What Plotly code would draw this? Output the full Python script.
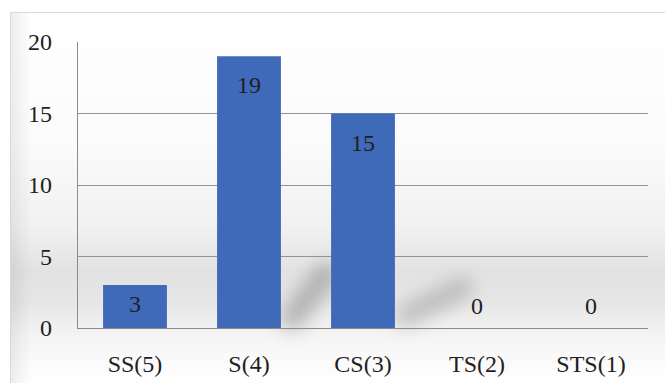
import base64
import plotly.graph_objects as go

# Response categories and counts
categories = ["SS(5)", "S(4)", "CS(3)", "TS(2)", "STS(1)"]
counts = [3, 19, 15, 0, 0]
y_ticks = [0, 5, 10, 15, 20]

W, H = 665, 383
L, R, T, B = 78, 17, 42, 55
plot_w = W - L - R
plot_h = H - T - B
y_max = 20

FONT = "'Liberation Serif', 'Times New Roman', serif"
FS = 24
TEXT = "#1f1f1f"
BAR = "#3f69b9"

# Chart-area backdrop: soft grey gradient, floor shadows and a thin frame
svg = f"""<svg xmlns='http://www.w3.org/2000/svg' width='{W}' height='{H}' viewBox='0 0 {W} {H}'>
<defs>
<linearGradient id='v' x1='0' y1='0' x2='0' y2='1'>
<stop offset='0' stop-color='#ffffff'/>
<stop offset='0.35' stop-color='#fbfbfb'/>
<stop offset='0.58' stop-color='#f1f1f1'/>
<stop offset='0.70' stop-color='#e2e2e2'/>
<stop offset='0.78' stop-color='#e6e6e6'/>
<stop offset='0.88' stop-color='#f5f5f5'/>
<stop offset='1' stop-color='#ffffff'/>
</linearGradient>
<linearGradient id='h' x1='0' y1='0' x2='1' y2='0'>
<stop offset='0' stop-color='#000000' stop-opacity='0.07'/>
<stop offset='1' stop-color='#000000' stop-opacity='0'/>
</linearGradient>
<filter id='f' filterUnits='userSpaceOnUse' x='0' y='0' width='{W}' height='{H}'><feGaussianBlur stdDeviation='9'/></filter>
</defs>
<rect x='0' y='0' width='{W}' height='{H}' fill='#ffffff'/>
<rect x='10' y='12' width='{W - 10}' height='{H - 12}' fill='url(#v)'/>
<rect x='10' y='12' width='22' height='{H - 12}' fill='url(#h)'/>
<line x1='292' y1='318' x2='326' y2='274' stroke='#6a6a6a' stroke-width='24' stroke-linecap='round' opacity='0.42' filter='url(#f)'/>
<line x1='406' y1='316' x2='462' y2='288' stroke='#7a7a7a' stroke-width='22' stroke-linecap='round' opacity='0.38' filter='url(#f)'/>
<rect x='10.5' y='12.5' width='{W - 10}' height='{H}' fill='none' stroke='#d9d9d9' stroke-width='1'/>
</svg>"""
bg_uri = "data:image/svg+xml;base64," + base64.b64encode(svg.encode()).decode()

fig = go.Figure(
    go.Bar(
        x=categories,
        y=counts,
        marker=dict(color=BAR, line=dict(width=0)),
        hoverinfo="x+y",
    )
)

# Value labels: just inside the top of each bar, above the axis for zeros
px_per_unit = plot_h / y_max
for cat, v in zip(categories, counts):
    if v > 0:
        h = v * px_per_unit
        shift = -min(29, h / 2 - 3)
    else:
        shift = 22
    fig.add_annotation(
        x=cat, y=v, xref="x", yref="y", text=str(v), showarrow=False,
        yshift=shift, font=dict(family=FONT, size=FS, color=TEXT),
    )

fig.add_layout_image(
    source=bg_uri, xref="paper", yref="paper",
    x=-L / plot_w, y=1 + T / plot_h,
    sizex=W / plot_w, sizey=H / plot_h,
    sizing="stretch", xanchor="left", yanchor="top", layer="below",
)

fig.update_layout(
    width=W, height=H,
    margin=dict(l=L, r=R, t=T, b=B, autoexpand=False),
    paper_bgcolor="#ffffff",
    plot_bgcolor="rgba(0,0,0,0)",
    bargap=0.44,
    showlegend=False,
    font=dict(family=FONT, size=FS, color=TEXT),
)
fig.update_xaxes(
    automargin=False,
    showgrid=False, showline=True, linecolor="#8c8c8c", linewidth=1.3,
    ticks="", ticklabelstandoff=14, tickfont=dict(family=FONT, size=FS, color=TEXT),
)
fig.update_yaxes(
    automargin=False,
    range=[0, y_max], tickvals=y_ticks, ticktext=[str(t) for t in y_ticks],
    showgrid=True, gridcolor="#939393", gridwidth=1.4, zeroline=False,
    showline=True, linecolor="#8c8c8c", linewidth=1.3,
    ticks="", ticklabelstandoff=20, tickfont=dict(family=FONT, size=FS, color=TEXT),
)

fig.write_html("out.html")
